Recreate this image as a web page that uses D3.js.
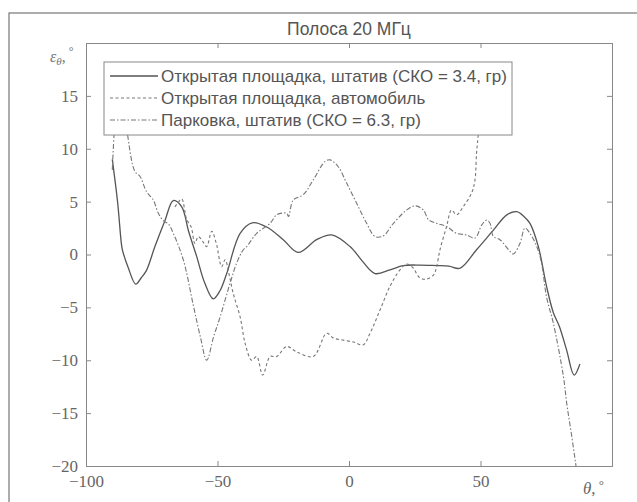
<!DOCTYPE html>
<html><head><meta charset="utf-8">
<script src="https://cdn.jsdelivr.net/npm/d3@7"></script>
<style>body{margin:0;background:#fff}</style>
</head><body>
<script>
const title = "Полоса 20 МГц";
const xTicks = [-100, -50, 0, 50];
const yTicks = [-20, -15, -10, -5, 0, 5, 10, 15];
const seriesNames = ["Открытая площадка, штатив (СКО = 3.4, гр)", "Открытая площадка, автомобиль", "Парковка, штатив (СКО = 6.3, гр)"];

const solidX = [-90,-88,-86.4,-85.8,-84,-81.1,-79,-77,-73.8,-70,-66.8,-63.6,-61,-57.9,-55,-51.6,-49,-46.5,-41.4,-36.8,-31.3,-25,-19.3,-12.3,-6.6,0.4,5,9.9,15.6,20.6,27,33.3,38,42.2,48.5,54.9,60,63.8,66.5,68.8,72,75.1,77.7,80,82.7,85.6,87.8];
const solidY = [9,5,0.75,0.1,-1.2,-2.8,-2.2,-1.5,0.75,3.2,5.1,4.5,2.2,-0.2,-2.6,-4.2,-3.4,-1.8,2.0,3.0,2.6,1.4,0.2,1.4,1.85,0.75,-0.6,-1.8,-1.45,-1.05,-1.0,-1.05,-1.1,-1.3,0.45,2.3,3.75,4.05,3.6,2.95,0.75,-3.0,-5.5,-6.8,-9.0,-11.4,-10.35];

const carX = [-66.2,-65,-63.6,-61.7,-60,-58.6,-57.3,-55.5,-54.1,-52.2,-50.5,-48.4,-47.1,-45.5,-44,-41.4,-39.5,-37,-35.1,-32.8,-30,-27.5,-23.7,-19.9,-13.6,-8.5,-5.9,-2.2,2,5.4,8,11.8,15.6,19.4,22,24.5,26.5,28.9,32.1,33.3,34.6,37.1,39,40.9,43.4,46.6,47.9,48.5,49.2,50];
const carY = [4.5,4.9,5.25,3.3,2.6,1.05,1.7,1.2,0.75,2.2,1.1,-1.15,-0.5,-2.0,-3.7,-5.9,-8.4,-10.0,-9.65,-11.4,-9.65,-9.65,-8.7,-9.2,-9.65,-7.45,-7.9,-8.1,-8.3,-8.55,-7.45,-5.25,-3.0,-1.45,-0.9,-1.3,-2.1,-2.35,-1.95,-1.15,0.45,2.65,4.2,3.75,4.5,5.8,7.05,9.6,11.5,15];

const parkX = [-90,-89.3,-88,-86,-84.3,-81.4,-79.5,-77,-74.4,-72.5,-70.6,-68.7,-66.8,-63,-59.2,-56.5,-54.1,-51.5,-49,-45.2,-42.7,-40.2,-38.9,-35.1,-30,-27.5,-23.7,-23,-21.2,-17.4,-13.6,-9.1,-7.2,-4.1,-0.9,2.9,6.7,9.9,13,16.9,21.9,25.1,28.3,30.2,33.3,37.1,40.9,44.7,47.9,50.5,52.3,53.6,54.9,57.4,61.2,62.5,65,66.9,68.8,71.4,73.2,75.1,77.7,81.5,82.8,84.7,86.6];
const parkY = [8,11.5,16,15,11.5,7.85,7.4,5.95,5.15,3.9,3.2,2.9,2.0,-0.5,-4.8,-7.8,-10.0,-7.8,-5.9,-2.7,-0.8,0.45,0.75,2.0,2.95,3.75,3.9,3.6,5.15,5.65,7.05,8.8,8.95,8.3,6.75,4.85,2.95,1.7,1.75,2.95,4.2,4.6,4.2,3.3,2.95,2.65,2.0,1.85,1.55,2.8,3.25,2.95,1.7,1.4,0.3,0.05,1.05,2.5,2.0,0.75,-0.8,-4.0,-6.5,-11.5,-14.1,-17.2,-20.5];

const W = 637, H = 502;
const m = {l: 86, r: 612, t: 43, b: 466};
const svg = d3.select("body").append("svg").attr("width", W).attr("height", H)
  .style("font-family", "'Liberation Serif', serif");

// outer figure frame
svg.append("rect").attr("x", 9).attr("y", 13).attr("width", 700).attr("height", 600)
  .attr("fill", "none").attr("stroke", "#777").attr("stroke-width", 1.2);

const x = d3.scaleLinear().domain([-100, 100]).range([m.l, m.r]);
const y = d3.scaleLinear().domain([-20, 20]).range([m.b, m.t]);

const axCol = "#888";
const tickLen = 5;
const fmt = d => d < 0 ? "\u2212" + Math.abs(d) : d;
const gB = svg.append("g").attr("transform", `translate(0,${m.b})`)
  .call(d3.axisBottom(x).tickValues(xTicks).tickSize(-tickLen).tickPadding(9).tickFormat(fmt));
const gT = svg.append("g").attr("transform", `translate(0,${m.t})`)
  .call(d3.axisTop(x).tickValues(xTicks.concat([100])).tickSize(-tickLen).tickFormat(""));
const gL = svg.append("g").attr("transform", `translate(${m.l},0)`)
  .call(d3.axisLeft(y).tickValues(yTicks).tickSize(-tickLen).tickPadding(8).tickFormat(fmt));
const gR = svg.append("g").attr("transform", `translate(${m.r},0)`)
  .call(d3.axisRight(y).tickValues(yTicks.concat([20])).tickSize(-tickLen).tickFormat(""));
[gB, gT, gL, gR].forEach(g => {
  g.select(".domain").attr("stroke", axCol);
  g.selectAll(".tick line").attr("stroke", axCol);
  g.selectAll("text").attr("fill", "#666").style("font-size", "17px").style("font-family", "'Liberation Serif', serif");
});

svg.append("clipPath").attr("id", "clip").append("rect")
  .attr("x", m.l).attr("y", m.t).attr("width", m.r - m.l).attr("height", m.b - m.t);

const line = d3.line().curve(d3.curveCatmullRom.alpha(0.5));
const plotG = svg.append("g").attr("clip-path", "url(#clip)");
const styles = [
  {dash: null, col: "#555", w: 1.3},
  {dash: "3,2.5", col: "#777", w: 1.1},
  {dash: "5,2,1.5,2", col: "#777", w: 1.1}
];
const series = [[solidX, solidY], [carX, carY], [parkX, parkY]];
series.forEach((s, i) => {
  const pts = s[0].map((v, j) => [x(v), y(s[1][j])]);
  plotG.append("path").attr("d", line(pts)).attr("fill", "none")
    .attr("stroke", styles[i].col).attr("stroke-width", styles[i].w)
    .attr("stroke-dasharray", styles[i].dash);
});

svg.append("text").attr("x", (m.l + m.r) / 2).attr("y", 35).attr("text-anchor", "middle")
  .style("font-family", "'Liberation Sans', Arial, sans-serif").style("font-size", "17.5px")
  .attr("fill", "#555").text(title);

const yl = svg.append("text").attr("x", 50).attr("y", 62).attr("fill", "#777")
  .style("font-family", "'Liberation Serif', serif").style("font-size", "16px");
yl.append("tspan").style("font-style", "italic").text("ε");
yl.append("tspan").attr("dy", 3).style("font-style", "italic").style("font-size", "11px").text("θ");
yl.append("tspan").attr("dy", -3).text(",");
yl.append("tspan").attr("dy", -7).style("font-size", "12px").text(" °");

const xl = svg.append("text").attr("x", 583).attr("y", 494).attr("fill", "#666")
  .style("font-family", "'Liberation Serif', serif").style("font-size", "17px");
xl.append("tspan").style("font-style", "italic").text("θ");
xl.append("tspan").text(",");
xl.append("tspan").attr("dy", -5).style("font-size", "13px").text(" °");

const lg = svg.append("g");
lg.append("rect").attr("x", 104).attr("y", 62).attr("width", 408).attr("height", 73)
  .attr("fill", "#fff").attr("stroke", "#888").attr("stroke-width", 1);
seriesNames.forEach((nm, i) => {
  const yy = 76 + i * 22;
  lg.append("line").attr("x1", 110).attr("x2", 158).attr("y1", yy).attr("y2", yy)
    .attr("stroke", styles[i].col).attr("stroke-width", styles[i].w).attr("stroke-dasharray", styles[i].dash);
  lg.append("text").attr("x", 161).attr("y", yy + 6).attr("fill", "#555")
    .style("font-family", "'Liberation Sans', Arial, sans-serif").style("font-size", "17px").text(nm);
});
</script>
</body></html>
